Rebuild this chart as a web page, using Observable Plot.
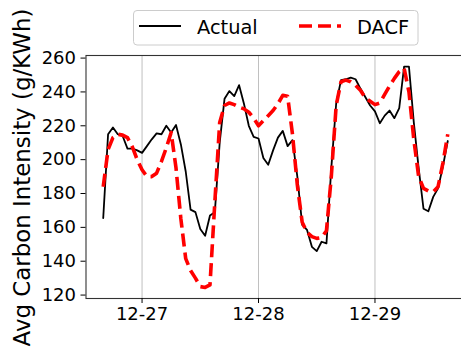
<!DOCTYPE html>
<html>
<head>
<meta charset="utf-8">
<script src="https://cdn.jsdelivr.net/npm/d3@7"></script>
<script src="https://cdn.jsdelivr.net/npm/@observablehq/plot@0.6"></script>
<style>
  html, body { margin: 0; padding: 0; background: white; }
  #wrap { position: relative; width: 461px; height: 352px; overflow: hidden; }
  #overlay { position: absolute; left: 0; top: 0; pointer-events: none; }
</style>
</head>
<body>
<div id="wrap"></div>
<script>
// ---- data ----
const startTime = Date.UTC(2021, 11, 26, 16); // 12-26 16:00, hourly
const seriesNames = ["Actual", "DACF"];
const seriesColors = ["black", "red"];
const actual = [
  165.5, 215, 219, 215, 214, 206.5, 206.5, 205.5,
  204, 208, 212, 215.5, 215, 220, 216, 220.5, 209, 193, 170.5, 169, 159, 155, 167, 169,
  210, 236, 240.5, 237.5, 244, 233, 220, 213.5,
  212.5, 201, 197, 205.5, 213, 217, 208, 211.5, 190, 161.5, 158.5, 148.5, 146, 151.5, 150.5, 195,
  233, 247, 247.5, 248.5, 247.5, 242, 237, 232,
  228.5, 221.5, 226, 229, 224.5, 230.5, 255, 255, 222, 195, 171, 169.5, 178, 183, 196, 211
];
const dacf = [
  184, 206, 213, 215, 214.5, 213, 207.5, 200,
  194, 190, 190, 192, 199, 207, 216, 195, 165, 141.5, 134.5, 130, 125, 124.5, 126, 175,
  222, 232, 233.5, 232.5, 231, 230, 228, 224.5,
  220, 223, 226, 229, 233, 238, 237.5, 215, 185, 163, 157, 154.5, 153.5, 154, 158, 190,
  232, 246, 247, 246, 244, 241, 236.5, 234.5,
  232.5, 233.5, 238.5, 243.5, 248, 252, 254, 240, 212, 190, 183, 181.5, 181, 184, 198, 215
];
const xTicks = [Date.UTC(2021, 11, 27), Date.UTC(2021, 11, 28), Date.UTC(2021, 11, 29)].map(t => new Date(t));
const yTicks = [120, 140, 160, 180, 200, 220, 240, 260];
const yLabel = "Avg Carbon Intensity (g/KWh)";

// ---- build rows ----
const HOUR = 3600 * 1000;
const rows = actual.map((v, i) => ({time: new Date(startTime + i * HOUR), actual: v, dacf: dacf[i]}));
const n = rows.length;
const pad = (n - 1) * 0.05 * HOUR; // matplotlib-like 5% margin
const xDomain = [new Date(startTime - pad), new Date(startTime + (n - 1) * HOUR + pad)];
const allVals = actual.concat(dacf);
const yMin = d3.min(allVals), yMax = d3.max(allVals);
const yPad = (yMax - yMin) * 0.05;

const chart = Plot.plot({
  width: 461,
  height: 352,
  marginLeft: 85.5,
  marginRight: -3.5,
  marginTop: 55,
  marginBottom: 54,
  style: {fontFamily: "DejaVu Sans", fontSize: "18px", color: "black", background: "white"},
  x: {type: "utc", domain: xDomain},
  y: {domain: [yMin - yPad, yMax + yPad]},
  marks: [
    Plot.gridX(xTicks, {stroke: "#b0b0b0", strokeOpacity: 0.8, strokeWidth: 1}),
    Plot.line(rows, {x: "time", y: "actual", stroke: seriesColors[0], strokeWidth: 1.8}),
    Plot.line(rows, {x: "time", y: "dacf", stroke: seriesColors[1], strokeWidth: 3.6, strokeDasharray: "13,6", strokeLinecap: "butt"}),
    Plot.frame({stroke: "#333", strokeWidth: 1.1}),
    Plot.axisY(yTicks, {tickSize: 5, tickPadding: 5, label: null, fontSize: 18}),
    Plot.axisX(xTicks, {tickSize: 5, tickPadding: 4, label: null, fontSize: 18, tickFormat: d3.utcFormat("%m-%d")})
  ]
});
document.getElementById("wrap").appendChild(chart);

// ---- overlay: legend above the plot and the rotated y-axis title ----
const NS = "http://www.w3.org/2000/svg";
const ov = document.createElementNS(NS, "svg");
ov.setAttribute("id", "overlay");
ov.setAttribute("width", 461);
ov.setAttribute("height", 352);
ov.style.fontFamily = "DejaVu Sans";
function el(tag, attrs, text) {
  const e = document.createElementNS(NS, tag);
  Object.entries(attrs).forEach(([k, v]) => e.setAttribute(k, v));
  if (text != null) e.textContent = text;
  ov.appendChild(e);
  return e;
}
// y-axis title
el("text", {transform: "translate(22,177.5) rotate(-90)", y: 8, "text-anchor": "middle", "font-size": "22.9px", fill: "black"}, yLabel);
// legend
el("rect", {x: 133.5, y: 10.5, width: 284.5, height: 34.5, rx: 3.5, fill: "rgba(255,255,255,0.8)", stroke: "#cccccc", "stroke-width": 1});
const entryX = [139, 299];
seriesNames.forEach((name, i) => {
  el("line", {x1: entryX[i], x2: entryX[i] + 42, y1: 26, y2: 26, stroke: seriesColors[i],
    "stroke-width": i === 0 ? 1.8 : 3.6, "stroke-dasharray": i === 0 ? "none" : "13,6"});
  el("text", {x: entryX[i] + 58, y: 33.5, "font-size": "19.4px", fill: "black"}, name);
});
document.getElementById("wrap").appendChild(ov);
</script>
</body>
</html>
